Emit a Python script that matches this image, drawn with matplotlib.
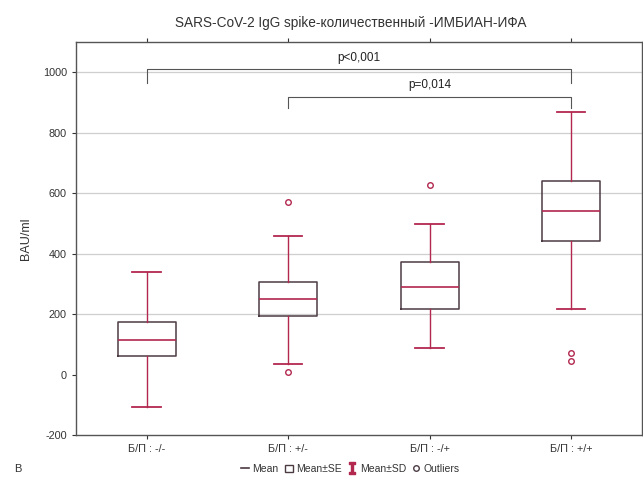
import matplotlib
matplotlib.use("Agg")
import matplotlib.pyplot as plt
from matplotlib.lines import Line2D
from matplotlib.patches import Patch

plt.rcParams['font.family'] = ['Liberation Sans', 'DejaVu Sans']
plt.rcParams['axes.unicode_minus'] = False

categories = ["Б/П : -/-", "Б/П : +/-", "Б/П : -/+", "Б/П : +/+"]
means = [113, 250, 291, 542]
se_low = [60, 193, 217, 442]
se_high = [174, 306, 371, 641]
sd_low = [-108, 36, 89, 218]
sd_high = [339, 457, 497, 869]
outliers = [[], [570, 9], [627], [73, 44]]
yticks = [-200, 0, 200, 400, 600, 800, 1000]

title = "SARS-CoV-2 IgG spike-количественный -ИМБИАН-ИФА"
ylabel = "BAU/ml"
brackets = [(1, 4, 1010, 966, "p<0,001"), (2, 4, 919, 882, "p=0,014")]

red = '#b3284f'
dark = '#4b3a42'

fig = plt.figure(figsize=(6.43, 4.82), dpi=100)
ax = fig.add_axes([0.118, 0.0975, 0.880, 0.815])

stats = []
for i in range(len(categories)):
    stats.append(dict(med=means[i], q1=se_low[i], q3=se_high[i],
                      whislo=sd_low[i], whishi=sd_high[i],
                      fliers=outliers[i], label=categories[i]))

pos = list(range(1, len(categories) + 1))
ax.bxp(stats, positions=pos, widths=0.41, showfliers=True,
       boxprops=dict(color=dark, linewidth=1.1),
       whiskerprops=dict(color=red, linewidth=1.0),
       capprops=dict(color=red, linewidth=1.3),
       medianprops=dict(color=red, linewidth=1.2),
       flierprops=dict(marker='o', markerfacecolor='white', markeredgecolor=red,
                       markersize=4, markeredgewidth=1.0),
       capwidths=0.2)

for y in [200, 400, 600, 800, 1000]:
    ax.axhline(y, color='#cfcfcf', linewidth=0.9, zorder=0)

for (a, b, yh, yl, txt) in brackets:
    ax.plot([a, a, b, b], [yl, yh, yh, yl], color='#555555', linewidth=0.8)
    ax.text((a + b) / 2, yh + 18, txt, ha='center', va='bottom', fontsize=8.5, color='#222222')

ax.set_xlim(0.5, 4.5)
ax.set_ylim(-200, 1100)
ax.set_yticks(yticks)
ax.set_xticks(pos)
ax.set_xticklabels(categories)
ax.tick_params(axis='both', labelsize=7.8, colors='#333333', length=3, direction='out')
ax.tick_params(top=True, right=True)
for s in ax.spines.values():
    s.set_color('#555555')
    s.set_linewidth(1.0)
ax.set_ylabel(ylabel, fontsize=9, color='#333333', labelpad=8)
fig.text(0.545, 0.953, title, ha='center', va='center', fontsize=9.8, color='#333333')

handles = [
    Line2D([0], [0], color=dark, linewidth=1.2),
    Patch(facecolor='white', edgecolor=dark, linewidth=1.0),
    Line2D([0], [0], color=red, linestyle='none', marker='$\\mathtt{I}$', markersize=8),
    Line2D([0], [0], color=red, linestyle='none', marker='o', markerfacecolor='white',
           markeredgecolor=dark, markersize=4),
]
labels = ["Mean", "Mean±SE", "Mean±SD", "Outliers"]
fig.legend(handles, labels, loc='center', bbox_to_anchor=(0.545, 0.027), ncol=4,
           frameon=False, fontsize=7.5, handlelength=0.8, handletextpad=0.3,
           columnspacing=0.6, labelcolor='#333333')
fig.text(0.022, 0.027, "B", ha='left', va='center', fontsize=8, color='#333333')

fig.savefig("out.png", dpi=100)
